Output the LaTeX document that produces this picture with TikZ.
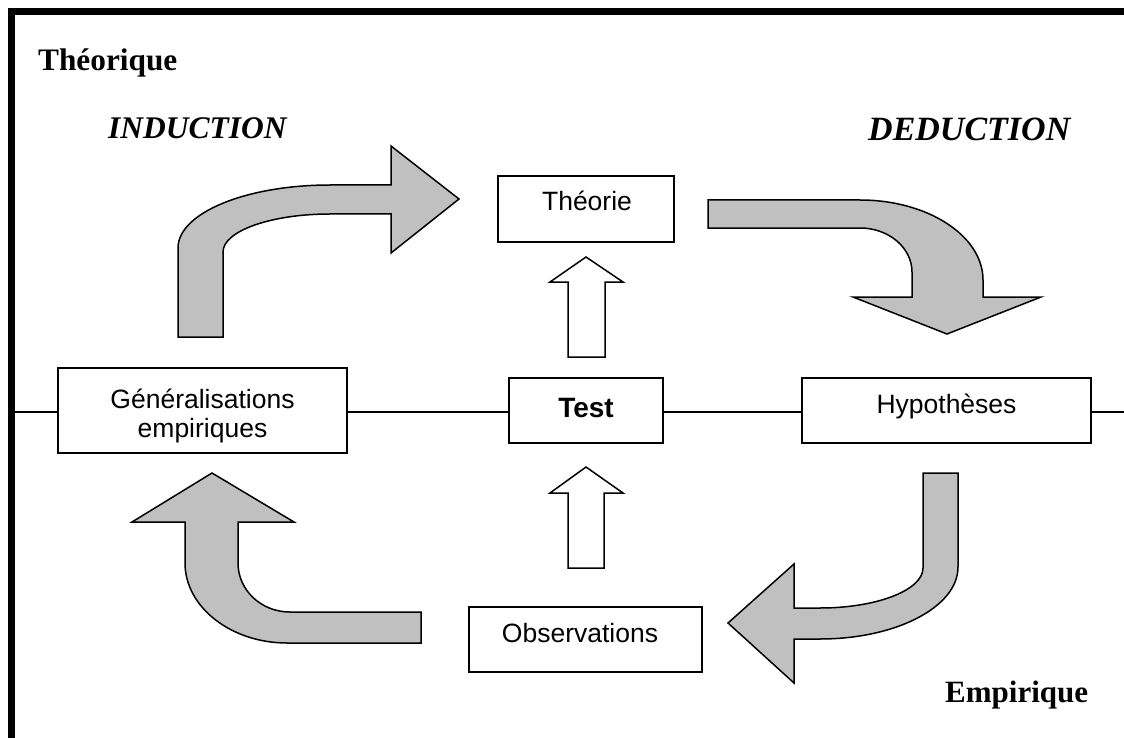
\documentclass[tikz,border=0pt]{standalone}
\usepackage{fontspec}
\setmainfont{Liberation Serif}
\setsansfont{Liberation Sans}
\definecolor{arrowgray}{RGB}{192,192,192}
\tikzset{
  boxnode/.style={draw=black, line width=1.5pt, fill=white, inner sep=0pt},
  boxtext/.style={anchor=base, inner sep=0pt, font=\sffamily\fontsize{26.5}{30}\selectfont},
  titletext/.style={anchor=base west, inner sep=0pt},
  garrow/.style={draw=black, line width=1.5pt, fill=arrowgray, line join=miter},
  warrow/.style={draw=black, line width=1.5pt, fill=white, line join=miter},
  linkline/.style={draw=black, line width=1.5pt},
}
\begin{document}
\begin{tikzpicture}[x=1pt,y=-1pt]
\useasboundingbox (0,0) rectangle (1124,738);
% frame
\draw[line width=7pt] (11.5,738) -- (11.5,11.5) -- (1124,11.5);
% titles
\node[titletext, font=\bfseries\fontsize{31.3}{36}\selectfont] (theorique) at (38,71) {Théorique};
\node[titletext, font=\bfseries\itshape\fontsize{31.5}{36}\selectfont] (induction) at (108,139) {INDUCTION};
\node[titletext, font=\bfseries\itshape\fontsize{34}{38}\selectfont] (deduction) at (868,141) {DEDUCTION};
\node[titletext, font=\bfseries\fontsize{31}{36}\selectfont] (empirique) at (945,702) {Empirique};
% boxes
\node[boxnode, minimum width=176, minimum height=66] (theo) at (586,209) {};
\node[boxnode, minimum width=154, minimum height=65] (test) at (586,410.5) {};
\node[boxnode, minimum width=289, minimum height=65] (hyp) at (946.5,410.5) {};
\node[boxnode, minimum width=289, minimum height=85] (gen) at (202.5,410.5) {};
\node[boxnode, minimum width=233, minimum height=65] (obs) at (585.5,639.5) {};
% box texts
\node[boxtext] (theot) at (587,211) {Théorie};
\node[boxtext, font=\sffamily\bfseries\fontsize{28}{32}\selectfont] (testt) at (586,417) {Test};
\node[boxtext] (hypt) at (946.5,413) {Hypothèses};
\node[boxtext] (gent1) at (202.5,408) {Généralisations};
\node[boxtext] (gent2) at (202.5,437) {empiriques};
\node[boxtext] (obst) at (580,642) {Observations};
% horizontal line
\coordinate (lineL) at (15,412);
\coordinate (lineR) at (1124,412);
\draw[linkline] (lineL) -- (lineL -| gen.west);
\draw[linkline] (gen.east |- lineL) -- (lineL -| test.west);
\draw[linkline] (test.east |- lineL) -- (lineL -| hyp.west);
\draw[linkline] (hyp.east |- lineL) -- (lineR);
% white block arrows
\draw[warrow] (568,357) -- (568,282) -- (550,282) -- (586,257) -- (623,282) -- (605,282) -- (605,357) -- cycle;
\draw[warrow] (568,568) -- (568,493) -- (550,493) -- (586,467) -- (623,493) -- (604,493) -- (604,568) -- cycle;
% curved gray arrows
\draw[garrow] (178,337) -- (178,248) .. controls (178,213) and (246,185) .. (330,185) -- (391,185) -- (391,146) -- (459,199) -- (391,253) -- (391,214) -- (330,214) .. controls (271,214) and (223,231) .. (223,252) -- (223,337) -- cycle;
\draw[garrow] (708,200) -- (860,200) .. controls (928,200) and (983,236) .. (983,280) -- (983,297) -- (1041,297) -- (947,334) -- (853,297) -- (912,297) -- (912,272) .. controls (912,248) and (889,228) .. (860,228) -- (708,228) -- cycle;
\draw[garrow] (923,473) -- (958,473) -- (958,567) .. controls (958,607) and (896,639) .. (820,639) -- (794,639) -- (794,683) -- (728,623) -- (794,564) -- (794,608) -- (820,608) .. controls (877,608) and (923,590) .. (923,568) -- cycle;
\draw[garrow] (421,612) -- (290,612) .. controls (261,612) and (238,590) .. (238,563) -- (238,522) -- (294,522) -- (212,473) -- (132,522) -- (185,522) -- (185,563) .. controls (185,607) and (231,643) .. (287,643) -- (421,643) -- cycle;
\end{tikzpicture}
\end{document}
